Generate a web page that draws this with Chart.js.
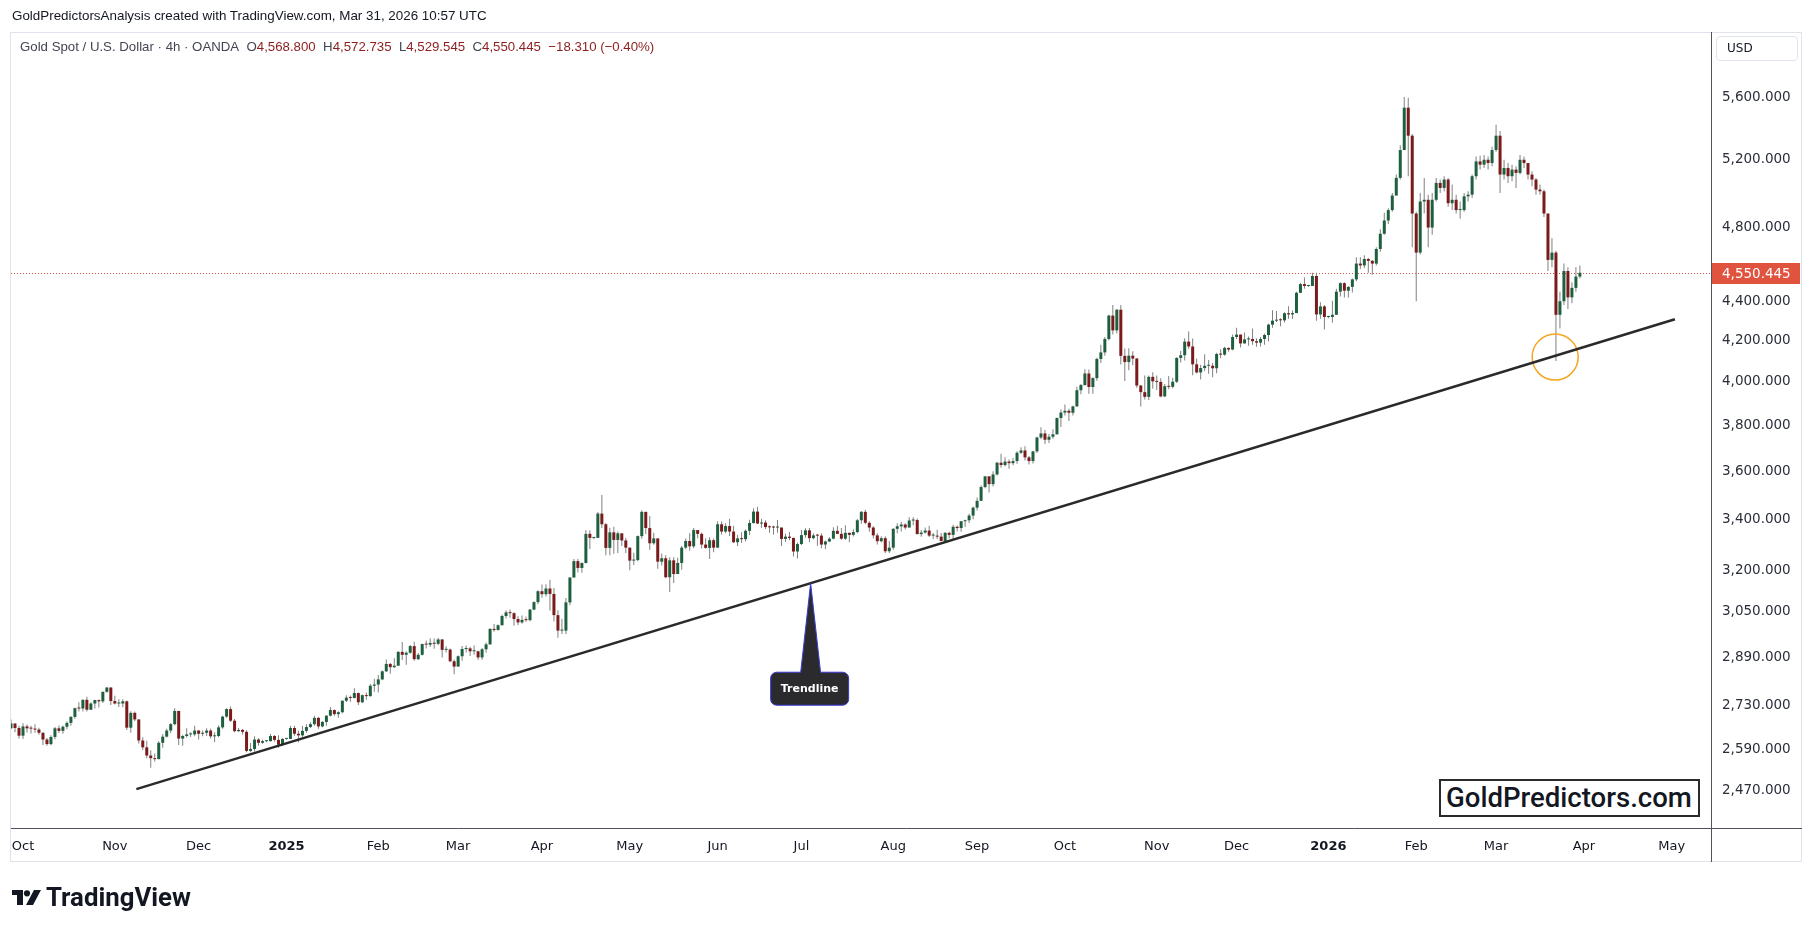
<!DOCTYPE html>
<html><head><meta charset="utf-8">
<script src="https://cdn.jsdelivr.net/npm/chart.js@4.4.1/dist/chart.umd.min.js"></script>
<style>
html,body{margin:0;padding:0;background:#fff;}
body{width:1814px;height:932px;position:relative;overflow:hidden;font-family:'Liberation Sans',Arial,sans-serif;}
canvas{position:absolute;left:0;top:0;}
.t{position:absolute;white-space:nowrap;line-height:1;transform:translateY(-50%);}
#hdr{left:12px;top:16px;font-size:13px;color:#131722;}
#leg{left:20px;top:47px;font-size:13px;color:#434651;}
#leg .v{color:#8c1e1e;}
#usd{position:absolute;left:1716px;top:36px;width:82px;height:25px;border:1px solid #e0e3eb;border-radius:4px;box-sizing:border-box;font:12px 'DejaVu Sans';color:#131722;padding-left:10px;line-height:23px;}
#wm{position:absolute;left:1439px;top:779px;width:261px;height:38px;border:2px solid #2b2b2b;box-sizing:border-box;background:#fff;}
#wmt{left:1446px;top:798px;font-family:Roboto,'Liberation Sans';font-size:26px;color:#131722;font-weight:500;}
#tv{left:46px;top:898px;font-family:Roboto,'Liberation Sans';font-weight:700;font-size:20px;color:#131722;}
#tvi{position:absolute;left:12px;top:890px;}
</style></head>
<body>
<canvas id="c" width="1814" height="932"></canvas>
<div id="hdr" class="t">GoldPredictorsAnalysis created with TradingView.com, Mar 31, 2026 10:57 UTC</div>
<div id="leg" class="t">Gold Spot / U.S. Dollar · 4h · OANDA&nbsp;&nbsp;O<span class="v">4,568.800</span>&nbsp;&nbsp;H<span class="v">4,572.735</span>&nbsp;&nbsp;L<span class="v">4,529.545</span>&nbsp;&nbsp;C<span class="v">4,550.445</span>&nbsp;&nbsp;<span class="v">−18.310 (−0.40%)</span></div>
<div id="usd">USD</div>
<div id="wm"></div>
<div id="wmt" class="t">GoldPredictors.com</div>
<svg id="tvi" width="30" height="16" viewBox="0 0 30 16"><path d="M0 0H11V15H5V5H0Z" fill="#131722"/><circle cx="15" cy="3.3" r="3.1" fill="#131722"/><path d="M22 0H29L21 15H14Z" fill="#131722"/></svg>
<div id="tv" class="t">TradingView</div>
<script>
// ---- data: daily candles, first entry = Thu 26 Sep 2024 (trading-day index -3; index 0 = 1 Oct 2024)
const FIRST_INDEX = -3;
const FIRST_OPEN = 2657;
const closes = [
 2672, 2658,
 2634, 2663, 2657, 2656, 2653,
 2643, 2622, 2608, 2630, 2657,
 2649, 2662, 2674, 2693, 2721,
 2720, 2748, 2716, 2736, 2747,
 2743, 2774, 2788, 2744, 2736,
 2736, 2743, 2659, 2706, 2685,
 2619, 2598, 2573, 2565, 2562,
 2612, 2631, 2650, 2670, 2712,
 2625, 2633, 2638, 2638, 2650,
 2640, 2643, 2650, 2632, 2633,
 2660, 2694, 2718, 2681, 2648,
 2652, 2646, 2587, 2593, 2622,
 2612, 2617, 2617, 2633, 2621,
 2606, 2624, 2624, 2658, 2640,
 2635, 2649, 2661, 2670, 2690,
 2663, 2677, 2697, 2715, 2702,
 2708, 2745, 2755, 2754, 2770,
 2740, 2763, 2760, 2794, 2798,
 2815, 2842, 2867, 2856, 2861,
 2908, 2898, 2905, 2928, 2883,
 2898, 2935, 2933, 2939, 2936,
 2951, 2915, 2916, 2876, 2858,
 2893, 2918, 2920, 2910, 2910,
 2889, 2917, 2934, 2988, 2984,
 3001, 3034, 3047, 3044, 3023,
 3011, 3020, 3019, 3057, 3084,
 3124, 3113, 3134, 3114, 3037,
 2982, 2982, 3083, 3175, 3237,
 3211, 3230, 3343, 3327, 3327,
 3424, 3381, 3288, 3349, 3319,
 3345, 3317, 3289, 3239, 3241,
 3334, 3431, 3366, 3306, 3325,
 3235, 3248, 3176, 3240, 3188,
 3230, 3289, 3315, 3294, 3358,
 3343, 3301, 3288, 3318, 3289,
 3381, 3352, 3374, 3352, 3310,
 3325, 3322, 3355, 3386, 3432,
 3384, 3388, 3370, 3369, 3368,
 3368, 3323, 3332, 3327, 3274,
 3303, 3338, 3357, 3326, 3337,
 3336, 3301, 3313, 3324, 3355,
 3343, 3324, 3347, 3339, 3350,
 3397, 3431, 3387, 3368, 3337,
 3314, 3326, 3275, 3289, 3363,
 3373, 3380, 3368, 3396, 3398,
 3342, 3348, 3356, 3336, 3336,
 3332, 3315, 3347, 3339, 3371,
 3366, 3393, 3397, 3416, 3448,
 3476, 3533, 3578, 3545, 3586,
 3636, 3626, 3641, 3634, 3643,
 3679, 3689, 3659, 3643, 3685,
 3746, 3764, 3736, 3749, 3760,
 3833, 3858, 3866, 3857, 3886,
 3961, 3985, 4040, 3976, 4018,
 4110, 4142, 4208, 4326, 4251,
 4356, 4125, 4095, 4126, 4112,
 3983, 3952, 3930, 4024, 4003,
 4000, 3932, 3980, 3977, 4001,
 4115, 4128, 4195, 4171, 4084,
 4045, 4066, 4077, 4077, 4065,
 4134, 4131, 4164, 4156, 4218,
 4230, 4186, 4206, 4208, 4197,
 4190, 4208, 4228, 4280, 4300,
 4304, 4302, 4338, 4332, 4339,
 4444, 4490, 4480, 4480, 4533,
 4332, 4373, 4319, 4319, 4330,
 4450, 4495, 4455, 4475, 4515,
 4600, 4590, 4625, 4615, 4600,
 4680, 4765, 4840, 4900, 4985,
 5090, 5260, 5530, 5350, 4880,
 4660, 4950, 4960, 4800, 4960,
 5060, 5030, 5080, 4940, 4960,
 4900, 4900, 4980, 4990, 5100,
 5190, 5170, 5200, 5180, 5260,
 5350, 5110, 5150, 5100, 5140,
 5120, 5200, 5180, 5110, 5080,
 5020, 5010, 4880, 4620, 4660,
 4330, 4400, 4560, 4420, 4470,
 4530, 4550.445
];
const highs = [
 2685, 2674,
 2665, 2673, 2669, 2665, 2670,
 2659, 2645, 2627, 2635, 2661,
 2666, 2666, 2679, 2696, 2722,
 2740, 2749, 2758, 2740, 2748,
 2749, 2775, 2790, 2790, 2761,
 2750, 2750, 2746, 2711, 2710,
 2685, 2629, 2618, 2589, 2579,
 2617, 2639, 2656, 2674, 2721,
 2713, 2637, 2657, 2645, 2665,
 2652, 2650, 2657, 2656, 2645,
 2667, 2697, 2721, 2726, 2686,
 2658, 2655, 2651, 2611, 2632,
 2626, 2621, 2619, 2639, 2636,
 2635, 2626, 2627, 2665, 2665,
 2649, 2664, 2670, 2676, 2697,
 2693, 2680, 2698, 2725, 2717,
 2711, 2746, 2763, 2762, 2786,
 2772, 2765, 2772, 2800, 2817,
 2830, 2845, 2882, 2870, 2886,
 2911, 2942, 2910, 2932, 2943,
 2904, 2937, 2947, 2955, 2954,
 2956, 2953, 2927, 2920, 2882,
 2896, 2928, 2930, 2926, 2930,
 2913, 2921, 2940, 2990, 3005,
 3004, 3038, 3055, 3057, 3047,
 3033, 3036, 3032, 3059, 3087,
 3128, 3149, 3150, 3167, 3136,
 3055, 3023, 3099, 3176, 3245,
 3245, 3232, 3358, 3357, 3330,
 3430, 3500, 3386, 3367, 3371,
 3352, 3340, 3328, 3290, 3269,
 3336, 3437, 3415, 3414, 3347,
 3325, 3266, 3260, 3252, 3252,
 3250, 3295, 3325, 3345, 3366,
 3356, 3348, 3326, 3330, 3325,
 3393, 3392, 3385, 3403, 3375,
 3338, 3349, 3360, 3399, 3446,
 3452, 3403, 3397, 3376, 3375,
 3398, 3368, 3343, 3350, 3328,
 3309, 3358, 3365, 3366, 3345,
 3342, 3345, 3317, 3330, 3369,
 3375, 3366, 3377, 3348, 3361,
 3402, 3434, 3439, 3393, 3373,
 3345, 3334, 3334, 3315, 3365,
 3385, 3390, 3385, 3409, 3409,
 3404, 3358, 3368, 3375, 3346,
 3359, 3346, 3350, 3351, 3379,
 3376, 3394, 3399, 3423, 3453,
 3490, 3540, 3578, 3563, 3600,
 3640, 3675, 3659, 3650, 3656,
 3685, 3703, 3707, 3665, 3688,
 3749, 3791, 3779, 3761, 3782,
 3835, 3872, 3895, 3875, 3889,
 3977, 3990, 4060, 4059, 4022,
 4116, 4180, 4218, 4330, 4380,
 4360, 4381, 4161, 4162, 4147,
 4115, 3986, 4030, 4030, 4046,
 4030, 4017, 3990, 4028, 4020,
 4118, 4149, 4212, 4245, 4211,
 4112, 4082, 4133, 4105, 4090,
 4140, 4157, 4170, 4166, 4230,
 4264, 4230, 4241, 4220, 4260,
 4212, 4218, 4234, 4285, 4353,
 4349, 4313, 4343, 4374, 4352,
 4449, 4497, 4525, 4485, 4550,
 4550, 4395, 4380, 4325, 4402,
 4465, 4500, 4500, 4480, 4520,
 4635, 4635, 4645, 4630, 4620,
 4690, 4790, 4885, 4910, 5000,
 5110, 5290, 5600, 5595, 5360,
 4890, 5000, 5090, 4990, 5000,
 5090, 5080, 5100, 5090, 5050,
 4990, 4950, 5000, 5010, 5110,
 5220, 5225, 5230, 5220, 5280,
 5420, 5380, 5200, 5180, 5170,
 5160, 5230, 5220, 5180, 5130,
 5090, 5050, 5020, 4880, 4740,
 4670, 4450, 4600, 4580, 4500,
 4580, 4590
];
const lows = [
 2655, 2645,
 2625, 2624, 2644, 2641, 2643,
 2637, 2605, 2603, 2604, 2623,
 2642, 2640, 2654, 2665, 2687,
 2710, 2710, 2710, 2715, 2720,
 2723, 2738, 2771, 2731, 2733,
 2725, 2724, 2652, 2643, 2679,
 2610, 2590, 2565, 2536, 2555,
 2562, 2597, 2628, 2642, 2667,
 2605, 2603, 2628, 2630, 2632,
 2622, 2632, 2633, 2625, 2614,
 2629, 2656, 2690, 2677, 2645,
 2646, 2638, 2583, 2583, 2585,
 2603, 2609, 2614, 2616, 2615,
 2597, 2603, 2621, 2624, 2634,
 2614, 2631, 2643, 2658, 2665,
 2656, 2660, 2665, 2694, 2697,
 2690, 2705, 2741, 2742, 2752,
 2731, 2738, 2748, 2758, 2774,
 2772, 2812, 2840, 2834, 2853,
 2860, 2880, 2864, 2902, 2878,
 2880, 2896, 2920, 2925, 2919,
 2931, 2889, 2906, 2873, 2832,
 2857, 2878, 2906, 2894, 2898,
 2880, 2880, 2905, 2933, 2978,
 2982, 3000, 3025, 3028, 2999,
 3002, 3006, 3013, 3015, 3055,
 3076, 3100, 3105, 3054, 3015,
 2957, 2970, 2970, 3073, 3175,
 3194, 3193, 3228, 3284, 3322,
 3330, 3366, 3260, 3260, 3265,
 3268, 3295, 3268, 3202, 3222,
 3237, 3324, 3342, 3281, 3300,
 3208, 3220, 3172, 3121, 3154,
 3206, 3204, 3283, 3277, 3287,
 3326, 3286, 3285, 3245, 3271,
 3290, 3340, 3345, 3335, 3307,
 3295, 3307, 3313, 3338, 3383,
 3382, 3367, 3362, 3347, 3340,
 3347, 3295, 3311, 3318, 3255,
 3247, 3299, 3328, 3311, 3322,
 3296, 3287, 3283, 3310, 3322,
 3341, 3320, 3319, 3310, 3333,
 3345, 3383, 3381, 3351, 3325,
 3301, 3309, 3268, 3268, 3281,
 3345, 3352, 3360, 3368, 3377,
 3341, 3332, 3344, 3331, 3323,
 3323, 3314, 3311, 3325, 3321,
 3352, 3351, 3370, 3386, 3401,
 3436, 3475, 3528, 3510, 3535,
 3582, 3614, 3620, 3610, 3625,
 3632, 3674, 3645, 3628, 3633,
 3678, 3738, 3717, 3722, 3740,
 3759, 3793, 3845, 3820, 3844,
 3884, 3942, 3983, 3945, 3945,
 4005, 4091, 4126, 4200, 4230,
 4235, 4083, 4004, 4055, 4080,
 3972, 3886, 3918, 3915, 3968,
 3962, 3928, 3930, 3966, 3970,
 3995, 4093, 4103, 4160, 4032,
 4040, 4011, 4052, 4039, 4022,
 4041, 4113, 4125, 4145, 4153,
 4208, 4166, 4189, 4175, 4180,
 4170, 4171, 4180, 4196, 4264,
 4293, 4272, 4291, 4310, 4308,
 4338, 4442, 4465, 4475, 4480,
 4300, 4310, 4255, 4312, 4290,
 4330, 4425, 4420, 4420, 4445,
 4505, 4570, 4575, 4550, 4540,
 4590, 4665, 4760, 4820, 4890,
 4985, 5080, 5260, 5100, 4690,
 4400, 4650, 4880, 4690, 4760,
 4950, 5000, 5010, 4920, 4900,
 4880, 4850, 4890, 4950, 4970,
 5080, 5140, 5150, 5140, 5160,
 5250, 5000, 5080, 5060, 5070,
 5030, 5110, 5150, 5080, 5040,
 4990, 4990, 4860, 4560, 4580,
 4100, 4260, 4380, 4360, 4390,
 4450, 4520
];
// axis ticks
const priceTicks = [2470, 2590, 2730, 2890, 3050, 3200, 3400, 3600, 3800, 4000, 4200, 4400, 4800, 5200, 5600];
const monthTickIndex = [0, 23, 44, 66, 89, 109, 130, 152, 174, 195, 218, 239, 261, 284, 304, 327, 349, 369, 391, 413];
const monthLabels = ['Oct','Nov','Dec','2025','Feb','Mar','Apr','May','Jun','Jul','Aug','Sep','Oct','Nov','Dec','2026','Feb','Mar','Apr','May'];
// drawings
const trendX = [28.4, 413.8];
const trendY = [2473, 4307];
const circleX = [383.8];
const circleY = [4119];
const calloutX = 197.3;
const lastPrice = 4550.445;
// visible range
const X_RANGE = [-3.006, 422.84];
const Y_RANGE = [2361.9, 6047];

const UP = '#1e5f3f', DOWN = '#7a1a1a', WICK = '#808080', PRICE_RED = '#e0533f';
const fmt = v => Number(v).toLocaleString('en-US', {minimumFractionDigits: 3, maximumFractionDigits: 3});

const opens = closes.map((c, k) => k === 0 ? FIRST_OPEN : closes[k - 1]);
const wickData = closes.map((c, k) => ({x: FIRST_INDEX + k, y: [Math.min(lows[k], opens[k], c), Math.max(highs[k], opens[k], c)]}));
const bodyData = closes.map((c, k) => ({x: FIRST_INDEX + k, y: [opens[k], c]}));
const bodyColors = closes.map((c, k) => c >= opens[k] ? UP : DOWN);

// fit overlay text widths
function fitWidth(id, target) {
  const el = document.getElementById(id);
  const w = el.getBoundingClientRect().width;
  const fs = parseFloat(getComputedStyle(el).fontSize);
  el.style.fontSize = (fs * target / w) + 'px';
}
fitWidth('hdr', 475); fitWidth('leg', 635); fitWidth('wmt', 246); fitWidth('tv', 145);

const overlay = {
  id: 'overlay',
  beforeDatasetsDraw(chart) {
    const {ctx, chartArea: a, scales: {y}} = chart;
    const py = Math.round(y.getPixelForValue(lastPrice)) + 0.5;
    ctx.save();
    ctx.setLineDash([1, 2]); ctx.strokeStyle = PRICE_RED; ctx.lineWidth = 1;
    ctx.beginPath(); ctx.moveTo(a.left, py); ctx.lineTo(a.right, py); ctx.stroke();
    ctx.restore();
  },
  afterDraw(chart) {
    const {ctx, chartArea: a, scales: {x, y}} = chart;
    ctx.save();
    // frame
    ctx.strokeStyle = '#e0e3eb'; ctx.lineWidth = 1;
    ctx.strokeRect(10.5, 32.5, 1791, 829);
    ctx.strokeStyle = '#50535e';
    ctx.beginPath();
    ctx.moveTo(a.left, a.bottom + 0.5); ctx.lineTo(1802, a.bottom + 0.5);
    ctx.moveTo(a.right + 0.5, 32); ctx.lineTo(a.right + 0.5, 862);
    ctx.stroke();
    // last price label
    const py = Math.round(y.getPixelForValue(lastPrice)) + 0.5;
    ctx.fillStyle = PRICE_RED;
    ctx.fillRect(a.right + 1, py - 10.5, 88, 21);
    ctx.fillStyle = '#ffffff'; ctx.font = '13.5px "DejaVu Sans"'; ctx.textBaseline = 'middle'; ctx.textAlign = 'left';
    ctx.fillText(fmt(lastPrice), a.right + 11, py + 0.5);
    // trendline callout
    const x0 = x.getPixelForValue(trendX[0]), x1 = x.getPixelForValue(trendX[1]);
    const y0 = y.getPixelForValue(trendY[0]), y1 = y.getPixelForValue(trendY[1]);
    const tx = x.getPixelForValue(calloutX);
    const ty = y0 + (tx - x0) / (x1 - x0) * (y1 - y0);
    const bw = 78, bh = 33, bx = tx - 40, by = ty + 89;
    ctx.fillStyle = '#2b2b2e'; ctx.strokeStyle = '#3a3ad6'; ctx.lineWidth = 1;
    ctx.beginPath(); ctx.roundRect(bx, by, bw, bh, 6); ctx.fill(); ctx.stroke();
    ctx.beginPath(); ctx.moveTo(tx, ty); ctx.lineTo(tx + 10, by + 1); ctx.lineTo(tx - 10, by + 1); ctx.closePath();
    ctx.fill();
    ctx.beginPath(); ctx.moveTo(tx - 10, by + 0.5); ctx.lineTo(tx, ty); ctx.lineTo(tx + 10, by + 0.5); ctx.stroke();
    ctx.fillStyle = '#2b2b2e'; ctx.fillRect(tx - 9, by - 0.5, 18, 3);
    ctx.fillStyle = '#ffffff'; ctx.font = 'bold 11px "DejaVu Sans"'; ctx.textAlign = 'center';
    ctx.fillText('Trendline', bx + bw / 2, by + bh / 2 + 0.5);
    ctx.restore();
  }
};

new Chart(document.getElementById('c'), {
  type: 'bar',
  data: {
    datasets: [
      {type: 'line', data: trendX.map((v, k) => ({x: v, y: trendY[k]})), borderColor: '#2a2a2a', borderWidth: 2.5, pointRadius: 0, order: 0},
      {type: 'line', data: circleX.map((v, k) => ({x: v, y: circleY[k]})), showLine: false, pointRadius: 23, pointHoverRadius: 23, pointBorderWidth: 1.5, pointBorderColor: '#f5a623', pointBackgroundColor: 'rgba(0,0,0,0)', order: 0},
      {data: bodyData, backgroundColor: bodyColors, barThickness: 3, minBarLength: 1, borderWidth: 0, inflateAmount: 0, grouped: false, order: 1},
      {data: wickData, backgroundColor: WICK, barThickness: 1, borderWidth: 0, inflateAmount: 0, grouped: false, order: 2}
    ]
  },
  options: {
    responsive: false, animation: false, devicePixelRatio: 1,
    layout: {autoPadding: false, padding: {left: 11, top: 32, right: 12, bottom: 71}},
    plugins: {legend: {display: false}, tooltip: {enabled: false}},
    scales: {
      x: {
        type: 'linear', min: X_RANGE[0], max: X_RANGE[1], offset: false,
        grid: {display: false, drawTicks: false}, border: {display: false},
        afterBuildTicks: s => { s.ticks = monthTickIndex.map(v => ({value: v})); },
        afterFit: s => { s.height = 33; s.paddingLeft = 0; s.paddingRight = 0; },
        ticks: {autoSkip: false, maxRotation: 0, minRotation: 0, padding: 11, color: '#131722',
          font: c => ({family: 'DejaVu Sans', size: 13, weight: /^20\d\d$/.test(monthLabels[c.index]) ? 'bold' : 'normal'}),
          callback: (v, i) => monthLabels[i]}
      },
      y: {
        type: 'logarithmic', position: 'right', min: Y_RANGE[0], max: Y_RANGE[1],
        grid: {display: false, drawTicks: false}, border: {display: false},
        afterBuildTicks: s => { s.ticks = priceTicks.map(v => ({value: v})); },
        afterFit: s => { s.width = 91; s.paddingTop = 0; s.paddingBottom = 0; },
        ticks: {autoSkip: false, padding: 11, color: '#2a2e39', font: {family: 'DejaVu Sans', size: 13.5},
          callback: v => fmt(v)}
      }
    }
  },
  plugins: [overlay]
});
</script>
</body></html>
